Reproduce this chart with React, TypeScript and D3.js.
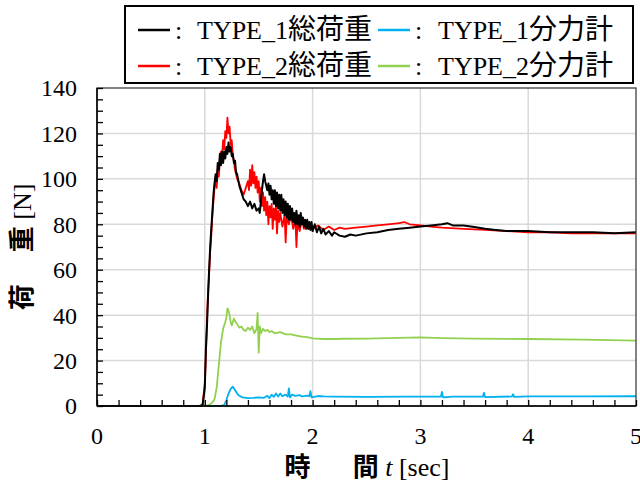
import React, { useEffect, useRef } from 'react';
import * as d3 from 'd3';

// time [sec] / load [N]
const type1Total: [number, number][] = [
  [0, 0], [0.95, 0], [0.98, 0.5], [1.0, 8], [1.01, 25], [1.02, 35], [1.03, 48], [1.04, 60],
  [1.05, 70], [1.06, 78], [1.07, 85], [1.08, 93], [1.09, 98], [1.1, 102], [1.11, 99],
  [1.12, 107], [1.13, 104], [1.14, 111], [1.15, 106], [1.16, 112], [1.17, 107], [1.18, 112],
  [1.19, 109], [1.2, 114], [1.21, 111], [1.22, 116], [1.23, 112], [1.24, 114], [1.25, 110],
  [1.26, 111], [1.27, 107], [1.28, 108], [1.29, 103], [1.3, 102], [1.32, 97], [1.34, 94],
  [1.36, 91], [1.38, 90], [1.4, 88], [1.42, 90], [1.44, 87], [1.46, 89], [1.48, 86],
  [1.5, 87], [1.51, 85], [1.52, 90], [1.53, 95], [1.54, 99], [1.55, 102], [1.56, 99],
  [1.57, 97], [1.58, 95], [1.59, 98], [1.6, 93], [1.61, 97], [1.62, 91], [1.63, 95],
  [1.64, 89], [1.65, 95], [1.66, 88], [1.67, 94], [1.68, 87], [1.69, 93], [1.7, 86],
  [1.71, 93], [1.72, 85], [1.73, 91], [1.74, 84], [1.75, 90], [1.76, 83], [1.77, 89],
  [1.78, 82], [1.79, 88], [1.8, 82], [1.81, 87], [1.82, 81], [1.83, 85], [1.84, 80],
  [1.85, 86], [1.86, 80], [1.87, 84], [1.88, 79], [1.89, 85], [1.9, 80], [1.91, 83],
  [1.92, 79], [1.93, 82], [1.94, 78], [1.95, 82], [1.96, 78], [1.97, 81], [1.98, 77.5],
  [1.99, 81], [2.0, 77], [2.02, 80], [2.04, 76.5], [2.06, 79], [2.08, 76], [2.1, 78],
  [2.12, 75.5], [2.15, 77], [2.18, 75], [2.2, 76.5], [2.25, 75], [2.3, 74.5], [2.35, 75.5],
  [2.4, 75], [2.5, 76], [2.6, 76.5], [2.7, 77.5], [2.8, 78], [2.9, 78.5], [3.0, 79],
  [3.1, 79.5], [3.2, 80], [3.25, 80.5], [3.3, 79.5], [3.4, 79.5], [3.5, 78.8], [3.6, 78],
  [3.7, 77.5], [3.8, 77], [4.0, 77], [4.2, 76.5], [4.4, 76.5], [4.6, 76.5], [4.8, 76],
  [5.0, 76.5],
];

const type2Total: [number, number][] = [
  [0, 0], [0.97, 0], [0.98, 1], [1.0, 10], [1.01, 22], [1.02, 38], [1.03, 50], [1.04, 58],
  [1.05, 68], [1.06, 75], [1.07, 84], [1.08, 90], [1.09, 96], [1.1, 100], [1.11, 96],
  [1.12, 104], [1.13, 101], [1.14, 108], [1.15, 112], [1.16, 110], [1.17, 117], [1.18, 113],
  [1.19, 121], [1.2, 118], [1.21, 127], [1.22, 120], [1.23, 123], [1.24, 115], [1.25, 117],
  [1.26, 110], [1.27, 108], [1.28, 104], [1.3, 100], [1.32, 98], [1.34, 95], [1.36, 93],
  [1.38, 96], [1.4, 99], [1.41, 95], [1.42, 104], [1.43, 97], [1.44, 106], [1.45, 98],
  [1.46, 103], [1.47, 96], [1.48, 101], [1.49, 94], [1.5, 99], [1.51, 90], [1.52, 96],
  [1.53, 88], [1.54, 94], [1.55, 86], [1.56, 92], [1.57, 84], [1.58, 90], [1.59, 80],
  [1.6, 88], [1.61, 83], [1.62, 89], [1.63, 78], [1.64, 87], [1.65, 82], [1.66, 88],
  [1.67, 76], [1.68, 86], [1.69, 81], [1.7, 85], [1.72, 79], [1.74, 84], [1.75, 72],
  [1.76, 83], [1.78, 80], [1.8, 84], [1.82, 78], [1.84, 82], [1.85, 70], [1.86, 81],
  [1.88, 77], [1.9, 82], [1.92, 78], [1.94, 81], [1.96, 78], [1.98, 80], [2.0, 78],
  [2.05, 79.5], [2.1, 77.5], [2.15, 79], [2.2, 77.5], [2.25, 78.5], [2.3, 78], [2.4, 78.5],
  [2.5, 79], [2.6, 79.5], [2.7, 80], [2.8, 80.5], [2.85, 81], [2.9, 80], [3.0, 79.5],
  [3.1, 79], [3.2, 78.5], [3.4, 78], [3.6, 77.5], [3.8, 77], [4.0, 76.5], [4.2, 76.5],
  [4.4, 76], [4.6, 76], [4.8, 76], [5.0, 76],
];

const type1Part: [number, number][] = [
  [0, 0], [1.15, 0], [1.18, 0.5], [1.2, 2.5], [1.22, 5.5], [1.24, 7.5], [1.26, 8.5],
  [1.28, 7], [1.3, 5.5], [1.32, 4.5], [1.35, 3.8], [1.4, 3.5], [1.45, 3.6], [1.5, 3.8],
  [1.55, 3.6], [1.58, 4.5], [1.6, 3.5], [1.62, 5], [1.64, 4], [1.66, 5.5], [1.68, 4.2],
  [1.7, 5.5], [1.72, 4.3], [1.75, 5], [1.77, 4.2], [1.78, 7.8], [1.79, 3.8], [1.81, 5],
  [1.84, 4.5], [1.88, 4.8], [1.9, 4.2], [1.95, 4.6], [1.97, 4.3], [1.98, 6.5], [1.99, 3.8],
  [2.05, 4.4], [2.1, 4.2], [2.2, 4.1], [2.5, 4.0], [2.9, 4.1], [3.0, 4.1], [3.19, 4.1],
  [3.2, 6.2], [3.21, 3.8], [3.3, 4.1], [3.58, 4.1], [3.59, 5.8], [3.6, 3.9], [3.85, 4.2],
  [3.86, 5.2], [3.87, 4.0], [4.0, 4.2], [4.5, 4.2], [5.0, 4.3],
];

const type2Part: [number, number][] = [
  [0, 0], [1.0, 0], [1.04, 0.5], [1.07, 1.5], [1.09, 3], [1.11, 8], [1.13, 18], [1.15, 28],
  [1.17, 34], [1.19, 37], [1.2, 39], [1.21, 43], [1.22, 42], [1.23, 40], [1.24, 37],
  [1.25, 35.5], [1.26, 37], [1.27, 38.5], [1.28, 37.5], [1.3, 36], [1.32, 34.5], [1.34, 35],
  [1.36, 33.5], [1.38, 33], [1.4, 34.5], [1.42, 33.5], [1.44, 35], [1.46, 32], [1.47, 33],
  [1.48, 34], [1.49, 41], [1.5, 23.5], [1.51, 35], [1.52, 32], [1.54, 34], [1.56, 33],
  [1.58, 33.5], [1.6, 32.5], [1.62, 33], [1.65, 32], [1.7, 32.5], [1.75, 31.5], [1.8, 31.5],
  [1.85, 31], [1.9, 30.5], [1.95, 30.3], [2.0, 29.8], [2.1, 29.5], [2.2, 29.5], [2.3, 29.6],
  [2.5, 29.7], [2.7, 29.9], [3.0, 30.2], [3.2, 29.9], [3.5, 29.7], [4.0, 29.5], [4.5, 29.2],
  [5.0, 28.8],
];

const xTicks = [0, 1, 2, 3, 4, 5];
const yTicks = [0, 20, 40, 60, 80, 100, 120, 140];

const serif = '"Liberation Serif", "Times New Roman", serif';
const gothic = '"Noto Sans CJK JP", sans-serif';

const App = () => {
  const ref = useRef<SVGSVGElement | null>(null);

  useEffect(() => {
    const svg = d3.select(ref.current);
    svg.selectAll('*').remove();

    const left = 97, right = 636, top = 88, bottom = 406;
    const x = d3.scaleLinear().domain([0, 5]).range([left, right]);
    const y = d3.scaleLinear().domain([0, 140]).range([bottom, top]);

    svg.append('rect').attr('width', 640).attr('height', 482).attr('fill', '#fff');

    // grid
    const grid = svg.append('g').attr('stroke', '#d9d9d9').attr('stroke-width', 1.5);
    xTicks.slice(1, -1).forEach(t => {
      grid.append('line').attr('x1', x(t)).attr('x2', x(t)).attr('y1', top).attr('y2', bottom);
    });
    yTicks.slice(1, -1).forEach(v => {
      grid.append('line').attr('x1', left).attr('x2', right).attr('y1', y(v)).attr('y2', y(v));
    });

    // series
    const line = d3.line<[number, number]>().x(d => x(d[0])).y(d => y(d[1]));
    const series: [[number, number][], string, number][] = [
      [type1Part, '#00b0f0', 1.8],
      [type2Part, '#92d050', 1.8],
      [type2Total, '#ff0000', 1.8],
      [type1Total, '#000000', 2],
    ];
    series.forEach(([data, color, w]) => {
      svg.append('path')
        .attr('d', line(data))
        .attr('fill', 'none')
        .attr('stroke', color)
        .attr('stroke-width', w)
        .attr('stroke-linejoin', 'round');
    });

    // frame
    svg.append('rect')
      .attr('x', left).attr('y', top)
      .attr('width', right - left).attr('height', bottom - top)
      .attr('fill', 'none').attr('stroke', '#404040').attr('stroke-width', 1.3);
    svg.append('line').attr('x1', left).attr('x2', left).attr('y1', top).attr('y2', bottom)
      .attr('stroke', '#000').attr('stroke-width', 1.5);
    svg.append('line').attr('x1', left).attr('x2', right).attr('y1', bottom).attr('y2', bottom)
      .attr('stroke', '#000').attr('stroke-width', 1.5);

    // inside ticks
    const yAxis = d3.axisRight(y).ticks(28).tickSize(6).tickFormat(() => '');
    const gy = svg.append('g').attr('transform', `translate(${left},0)`).call(yAxis);
    const xAxis = d3.axisTop(x).ticks(25).tickSize(6).tickFormat(() => '');
    const gx = svg.append('g').attr('transform', `translate(0,${bottom})`).call(xAxis);
    [gy, gx].forEach(g => {
      g.select('.domain').remove();
      g.selectAll('line').attr('stroke', '#000').attr('stroke-width', 1.3);
    });

    // tick labels
    svg.append('g').selectAll('text').data(yTicks).enter().append('text')
      .attr('x', 77).attr('y', d => y(d)).attr('dy', '0.35em')
      .attr('text-anchor', 'end')
      .style('font-family', serif).style('font-size', '24px')
      .text(d => d);
    svg.append('g').selectAll('text').data(xTicks).enter().append('text')
      .attr('x', d => x(d)).attr('y', 444)
      .attr('text-anchor', 'middle')
      .style('font-family', serif).style('font-size', '24px')
      .text(d => d);

    // axis titles
    const xt = svg.append('text').attr('x', 367).attr('y', 476).attr('text-anchor', 'middle')
      .style('font-size', '26px');
    xt.append('tspan').style('font-family', gothic).style('font-weight', 'bold').text('時');
    xt.append('tspan').attr('dx', 42).style('font-family', gothic).style('font-weight', 'bold').text('間');
    xt.append('tspan').style('font-family', serif).style('font-style', 'italic').text(' t');
    xt.append('tspan').style('font-family', serif).text(' [sec]');

    const yt = svg.append('text')
      .attr('transform', `translate(31,${(top + bottom) / 2}) rotate(-90)`)
      .attr('text-anchor', 'middle')
      .style('font-size', '26px');
    yt.append('tspan').style('font-family', gothic).style('font-weight', 'bold').text('荷');
    yt.append('tspan').attr('dx', 32).style('font-family', gothic).style('font-weight', 'bold').text('重');
    yt.append('tspan').style('font-family', serif).text(' [N]');

    // legend
    svg.append('rect')
      .attr('x', 125).attr('y', 6).attr('width', 508).attr('height', 77)
      .attr('fill', '#fff').attr('stroke', '#000').attr('stroke-width', 2);
    const items: [string, string, string, number, number][] = [
      ['#000000', '1', '総荷重', 138, 0],
      ['#ff0000', '2', '総荷重', 138, 1],
      ['#00b0f0', '1', '分力計', 378, 0],
      ['#92d050', '2', '分力計', 378, 1],
    ];
    items.forEach(([color, n, jp, lx, row]) => {
      const cy = 30 + row * 36;
      svg.append('line')
        .attr('x1', lx).attr('x2', lx + 32).attr('y1', cy).attr('y2', cy)
        .attr('stroke', color).attr('stroke-width', 2.5);
      const base = cy + 9;
      svg.append('text').attr('x', lx + 37).attr('y', base)
        .style('font-family', serif).style('font-size', '26px').text(':');
      const t = svg.append('text').attr('x', lx + (lx > 200 ? 60 : 59)).attr('y', base)
        .style('font-size', '26px');
      t.append('tspan').style('font-family', serif).text(`TYPE_${n}`);
      t.append('tspan').style('font-family', gothic).style('font-size', '28px').text(jp);
    });
  }, []);

  return (
    <svg
      ref={ref}
      width={640}
      height={482}
      style={{ position: 'absolute', left: 0, top: 0, display: 'block' }}
    />
  );
};

export default App;
